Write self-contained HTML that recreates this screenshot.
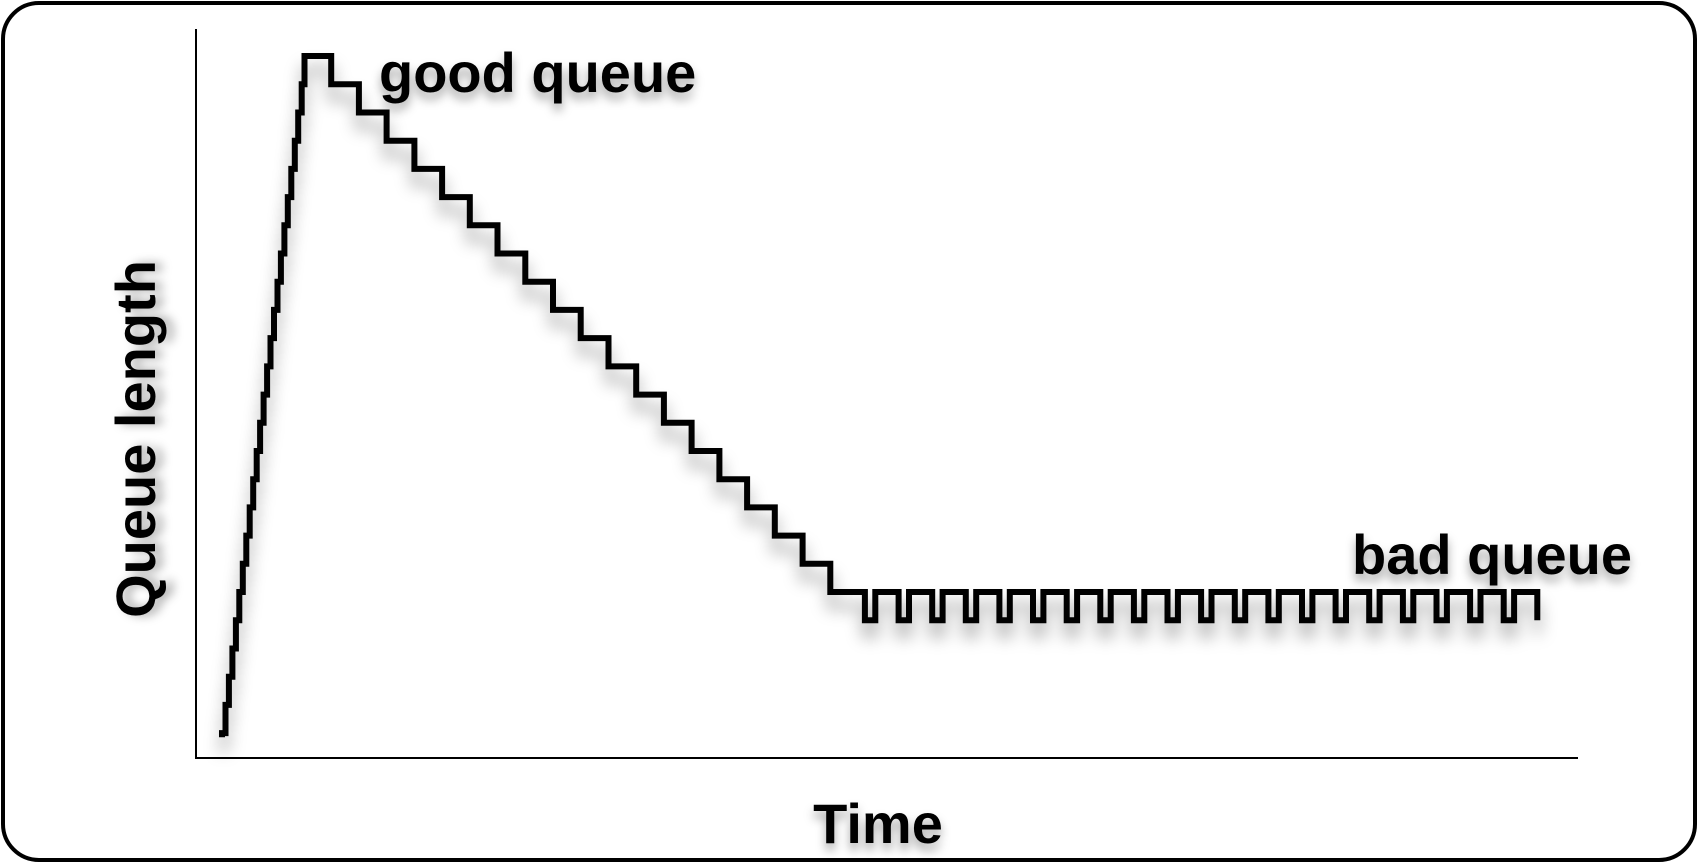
<!DOCTYPE html>
<html><head><meta charset="utf-8"><style>
html,body{margin:0;padding:0;background:#fff;}
svg{display:block;}
text{font-family:"Liberation Sans",Arial,sans-serif;font-weight:bold;fill:#000;}
</style></head><body>
<svg id="chart" width="1698" height="863" viewBox="0 0 1698 863" xmlns="http://www.w3.org/2000/svg">
<defs>
<filter id="sh" x="-10%" y="-10%" width="120%" height="130%">
<feDropShadow dx="0" dy="14" stdDeviation="8" flood-color="#000" flood-opacity="0.35"/>
</filter>
<filter id="tsh" x="-10%" y="-20%" width="120%" height="160%">
<feDropShadow dx="0" dy="7" stdDeviation="5" flood-color="#000" flood-opacity="0.35"/>
</filter>
</defs>
<rect x="3" y="3" width="1692" height="857" rx="36" ry="36" fill="#fff" stroke="#000" stroke-width="4"/>
<line x1="196" y1="29" x2="196" y2="759" stroke="#000" stroke-width="2"/>
<line x1="195" y1="758" x2="1578" y2="758" stroke="#000" stroke-width="2"/>
<g id="series" filter="url(#sh)"></g>
<text x="379" y="92" font-size="56" filter="url(#tsh)">good queue</text>
<text x="1352" y="574" font-size="56" filter="url(#tsh)">bad queue</text>
<text x="878" y="843" font-size="56" text-anchor="middle" filter="url(#tsh)">Time</text>
<text x="0" y="0" font-size="56" text-anchor="middle" transform="translate(155,439) rotate(-90)" filter="url(#tsh)">Queue length</text>
</svg>
<script>
// Rising phase: step times and queue levels
const riseTimes = [7.5,8.5,9.5,10.5,11.5,12.5,13.5,14.5,15.5,16.5,17.5,18.5,19.5,20.5,21.5,22.5,23.5,24.5,25.5,26.5,27.5,28.5,29.5,30.5,31.3];
const riseValues = [1,2,3,4,5,6,7,8,9,10,11,12,13,14,15,16,17,18,19,20,21,22,23,24,25];
// Draining phase (good queue): step times and levels
const drainTimes = [39,47,55,63,71,79,87,95,103,111,119,127,135,143,151,159,167,175,183];
const drainValues = [24,23,22,21,20,19,18,17,16,15,14,13,12,11,10,9,8,7,6];
// Standing (bad queue): drop times, rise times, levels
const badDropTimes = [193,202.7,212.4,222.1,231.8,241.5,251.2,260.9,270.6,280.3,290,299.7,309.4,319.1,328.8,338.5,348.2,357.9,367.6,377.3,387];
const badUpTimes = [196,205.7,215.4,225.1,234.8,244.5,254.2,263.9,273.6,283.3,293,302.7,312.4,322.1,331.8,341.5,351.2,360.9,370.6,380.3];
const badHigh = 6;
const badLow = 5;

function xScale(t){ return 196 + t*3.466; }
function yScale(v){ return 761.3 - v*28.21; }

const pts = [];
pts.push([riseTimes[0], 0.85]);
for (let i=0;i<riseTimes.length;i++){
  pts.push([riseTimes[i], riseValues[i]]);
  if (i+1<riseTimes.length) pts.push([riseTimes[i+1], riseValues[i]]);
}
let cur = riseValues[riseValues.length-1];
for (let i=0;i<drainTimes.length;i++){
  pts.push([drainTimes[i], cur]);
  cur = drainValues[i];
  pts.push([drainTimes[i], cur]);
}
for (let i=0;i<badDropTimes.length;i++){
  pts.push([badDropTimes[i], badHigh]);
  pts.push([badDropTimes[i], badLow]);
  if (i<badUpTimes.length){
    pts.push([badUpTimes[i], badLow]);
    pts.push([badUpTimes[i], badHigh]);
  }
}
const d = pts.map((p,i)=>(i?'L':'M')+xScale(p[0]).toFixed(1)+' '+yScale(p[1]).toFixed(1)).join(' ');
const path = document.createElementNS('http://www.w3.org/2000/svg','path');
path.setAttribute('d', d);
path.setAttribute('fill','none');
path.setAttribute('stroke','#000');
path.setAttribute('stroke-width','6');
path.setAttribute('stroke-linejoin','miter');


document.getElementById('series').appendChild(path);
</script>
</body></html>
